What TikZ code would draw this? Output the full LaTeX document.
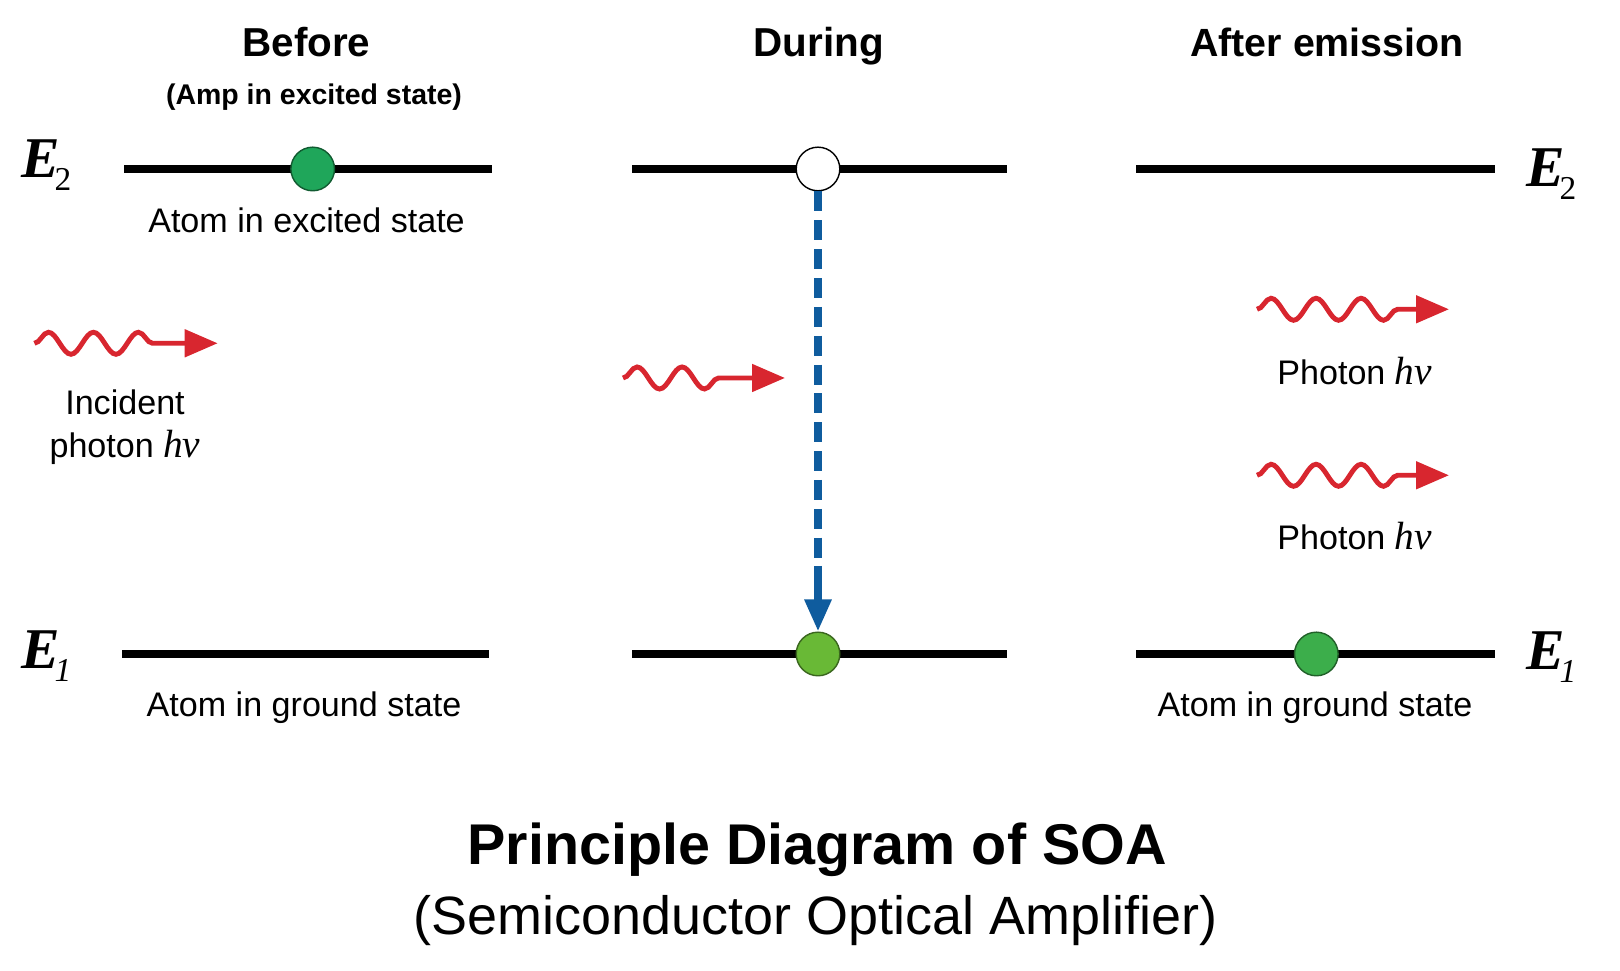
\documentclass[tikz,border=0pt]{standalone}
\usepackage{fontspec}
\setmainfont{Liberation Sans}
\newfontfamily\eqfont{Liberation Serif}
\usetikzlibrary{arrows.meta,decorations.pathmorphing}
\definecolor{photonred}{HTML}{D8262F}
\definecolor{dropblue}{HTML}{0F5C9E}
\definecolor{atomteal}{HTML}{1FA65A}
\definecolor{atomlime}{HTML}{69B936}
\definecolor{atomgreen}{HTML}{3CAE4B}
\newcommand{\hnu}{{\eqfont\fontsize{11.2}{12}\selectfont\itshape hv}}
\newcommand{\elabel}[2]{{\eqfont\fontsize{16.4}{18}\selectfont\bfseries\itshape #1}\kern-1.6pt\raisebox{-3.6pt}{\eqfont\fontsize{9.5}{12}\selectfont #2}}

\begin{document}
\begin{tikzpicture}[
  head text/.style={inner sep=0, anchor=base, font=\fontsize{11.5}{14}\selectfont\bfseries},
  sub text/.style={inner sep=0, anchor=base, font=\fontsize{8.1}{10}\selectfont\bfseries},
  small text/.style={inner sep=0, anchor=base, align=center, font=\fontsize{9.7}{12.4}\selectfont},
  level name/.style={inner sep=0, anchor=base west},
  level line/.style={line width=2.1pt},
  atom/.style={circle, inner sep=0, minimum size=.436cm, line width=.4pt, draw=#1!55!black, fill=#1},
  hole/.style={circle, inner sep=0, minimum size=.436cm, line width=.4pt, draw=black, fill=white},
  photon/.style={photonred, line width=1.4pt, decorate,
    decoration={snake, amplitude=.11cm, segment length=.45cm, post=lineto, post length=#1},
    -{Triangle[length=.33cm, width=.27cm]}},
  drop/.style={dropblue, line width=2.1pt}]
  \useasboundingbox (0,0) rectangle (16.2,9.71);

  % headings
  \node[head text] (before) at (3.064,9.14) {Before};
  \node[sub text] (amp) at (3.14,8.66) {(Amp in excited state)};
  \node[head text] (during) at (8.187,9.14) {During};
  \node[head text, font=\fontsize{11.2}{14}\selectfont\bfseries] (after) at (13.27,9.14) {After emission};

  % energy levels
  \coordinate (a2) at (1.24,8.02);
  \coordinate (b2) at (4.92,8.02);
  \coordinate (a1) at (1.22,3.17);
  \coordinate (b1) at (4.89,3.17);
  \coordinate (c2) at (6.32,8.02);
  \coordinate (d2) at (10.07,8.02);
  \coordinate (c1) at (6.32,3.17);
  \coordinate (d1) at (10.07,3.17);
  \coordinate (e2) at (11.36,8.02);
  \coordinate (f2) at (14.95,8.02);
  \coordinate (e1) at (11.36,3.17);
  \coordinate (f1) at (14.95,3.17);
  \draw[level line] (a2) -- (b2);
  \draw[level line] (a1) -- (b1);
  \draw[level line] (c2) -- (d2);
  \draw[level line] (c1) -- (d1);
  \draw[level line] (e2) -- (f2);
  \draw[level line] (e1) -- (f1);

  \node[level name] (lE2) at (.21,7.93) {\elabel{E}{2}};
  \node[level name] (lE1) at (.21,3.02) {\elabel{E}{\itshape 1}};
  \node[level name] (rE2) at (15.26,7.84) {\elabel{E}{2}};
  \node[level name] (rE1) at (15.26,3.01) {\elabel{E}{\itshape 1}};

  % atoms
  \node[atom=atomteal] (n0) at (3.127,8.02) {};
  \node[hole] (n1) at (8.18,8.02) {};
  \node[atom=atomlime] (n2) at (8.18,3.17) {};
  \node[atom=atomgreen] (n3) at (13.163,3.17) {};

  \node[small text] (t0) at (3.065,7.38) {Atom in excited state};
  \node[small text] (t1) at (3.04,2.54) {Atom in ground state};
  \node[small text] (t2) at (13.15,2.54) {Atom in ground state};

  % transition
  \coordinate (solid) at (8.18,4.05);
  \draw[drop, dash pattern=on .20cm off .0885cm] (n1) -- (solid);
  \draw[drop, -{Triangle[length=.32cm, width=.255cm]}] (solid) -- (n2);

  % photons
  \coordinate (p0) at (.344,6.277);
  \coordinate (q0) at (2.177,6.277);
  \coordinate (p1) at (6.23,5.93);
  \coordinate (q1) at (7.85,5.93);
  \coordinate (p2) at (12.57,6.617);
  \coordinate (q2) at (14.49,6.617);
  \coordinate (p3) at (12.57,4.957);
  \coordinate (q3) at (14.49,4.957);
  \draw[photon=.64cm] (p0) -- (q0);
  \draw[photon=.65cm] (p1) -- (q1);
  \draw[photon=.50cm] (p2) -- (q2);
  \draw[photon=.50cm] (p3) -- (q3);

  \node[small text] (t3) at (1.25,5.13) {Incident\\photon \hnu};
  \node[small text] (t4) at (13.547,5.865) {Photon \hnu};
  \node[small text] (t5) at (13.547,4.215) {Photon \hnu};

  % title
  \node[inner sep=0, anchor=base, font=\fontsize{16.35}{20}\selectfont\bfseries] (title) at (8.17,1.06) {Principle Diagram of SOA};
  \node[inner sep=0, anchor=base, font=\fontsize{15.35}{18}\selectfont] (subtitle) at (8.155,.36) {(Semiconductor Optical Amplifier)};
\end{tikzpicture}
\end{document}
